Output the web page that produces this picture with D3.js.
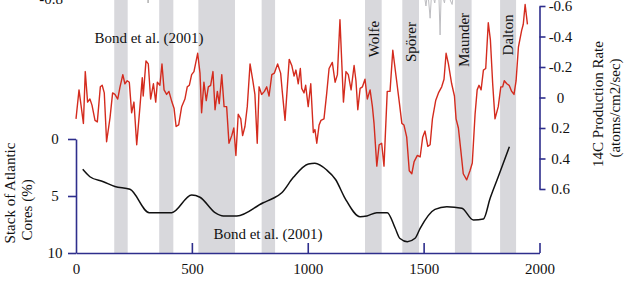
<!DOCTYPE html>
<html>
<head>
<meta charset="utf-8">
<script src="https://cdn.jsdelivr.net/npm/d3@7"></script>
<style>
  body { margin: 0; background: #fff; }
  svg text { font-family: "Liberation Serif", "Times New Roman", serif; font-size: 15px; fill: #111; }
</style>
</head>
<body>
<svg width="630" height="283"></svg>
<script>
// solar minima / Bond events (years AD)
var bandStart = [165, 359, 528, 801, 1247, 1408, 1635, 1830];
var bandEnd   = [223, 420, 686, 859, 1319, 1480, 1707, 1899];
var bandNames = ["", "", "", "", "Wolfe", "Spörer", "Maunder", "Dalton"];

// 14C production rate (right axis, inverted)
var c14Years = [0, 13, 32, 40, 50, 60, 69, 82, 92, 105, 113, 122, 132, 147, 158, 168, 180, 190, 202, 211,
  221, 230, 240, 250, 262, 276, 286, 290, 302, 312, 322, 334, 344, 351, 362, 371, 380, 391, 401, 414,
  423, 432, 443, 456, 470, 480, 489, 499, 509, 525, 535, 542, 552, 562, 571, 581, 591, 600, 610, 618,
  629, 639, 650, 660, 672, 681, 690, 700, 711, 719, 729, 739, 751, 763, 772, 782, 790, 801, 813, 823,
  833, 845, 856, 870, 883, 890, 902, 911, 920, 931, 941, 949, 959, 968, 974, 984, 991, 1002, 1013, 1024,
  1031, 1039, 1049, 1057, 1070, 1082, 1092, 1106, 1118, 1128, 1139, 1154, 1165, 1175, 1187, 1200, 1208, 1216, 1226, 1236,
  1247, 1257, 1269, 1279, 1286, 1298, 1308, 1319, 1329, 1343, 1355, 1367, 1381, 1395, 1406, 1415, 1427, 1438, 1449, 1459,
  1473, 1485, 1496, 1506, 1518, 1528, 1538, 1552, 1564, 1578, 1588, 1597, 1607, 1621, 1633, 1640, 1650, 1660, 1671, 1686,
  1700, 1710, 1722, 1731, 1739, 1748, 1758, 1768, 1779, 1788, 1798, 1808, 1822, 1833, 1841, 1848, 1859, 1869, 1880, 1890,
  1899, 1909, 1923, 1930, 1938, 1948];
var c14Rate = [0.14, -0.05, 0.17, -0.17, 0.03, 0.01, 0.05, 0.15, 0.16, -0.07, -0.08, -0.03, 0.29, 0.13, -0.03, -0.02, 0.01, -0.07, -0.15, -0.09,
  -0.11, -0.10, 0.10, 0.03, 0.31, 0.06, -0.13, -0.01, -0.24, -0.22, 0.01, -0.09, 0.03, -0.10, -0.08, -0.22, -0.05, -0.02, -0.04, 0.03,
  0.07, 0.19, 0.18, 0.06, 0.01, -0.07, -0.08, -0.15, -0.17, -0.29, -0.16, 0.10, -0.10, 0.02, -0.07, -0.08, -0.17, 0.08, -0.04, 0.04,
  -0.15, 0.06, 0.06, 0.30, 0.25, 0.20, 0.38, 0.11, 0.14, 0.25, 0.19, 0.06, -0.22, -0.11, -0.02, 0.30, -0.07, -0.02, -0.04, -0.07,
  -0.01, -0.15, -0.16, -0.22, -0.16, -0.04, 0.15, -0.05, -0.25, -0.21, -0.14, -0.18, -0.09, -0.19, -0.06, -0.03, -0.08, 0.06, -0.09, 0.23,
  0.21, 0.30, 0.18, 0.15, 0.14, -0.03, -0.19, -0.23, -0.10, -0.15, -0.51, 0.03, -0.17, -0.15, -0.05, -0.21, -0.11, 0.08, -0.06, -0.07,
  -0.12, 0.01, -0.05, 0.06, 0.17, 0.45, 0.31, 0.30, 0.45, -0.04, -0.04, -0.31, -0.14, 0.03, 0.17, 0.18, 0.26, 0.48, 0.50, 0.42,
  0.38, 0.39, 0.26, 0.22, 0.32, 0.31, 0.14, 0.02, -0.03, -0.07, -0.12, -0.29, -0.22, -0.09, -0.01, 0.14, 0.20, 0.34, 0.50, 0.54,
  0.48, 0.43, 0.11, -0.05, -0.08, -0.05, -0.18, -0.19, -0.49, -0.38, -0.09, 0.14, 0.06, -0.07, -0.07, -0.11, -0.09, -0.08, -0.04, -0.02,
  -0.11, -0.33, -0.44, -0.48, -0.61, -0.48];

// Bond et al. (2001) stack of Atlantic cores (left axis)
var bondYears = [29, 60, 118, 168, 233, 316, 413, 499, 535, 600, 636, 694, 808, 851, 888, 938, 1003, 1031, 1082, 1120,
  1161, 1226, 1255, 1298, 1343, 1377, 1398, 1430, 1463, 1485, 1549, 1600, 1665, 1715, 1758, 1787, 1822, 1870];
var bondPct = [2.66, 3.31, 3.75, 4.17, 4.41, 6.46, 6.46, 4.91, 5.11, 6.46, 6.75, 6.75, 5.59, 5.20, 4.71, 3.36, 2.19, 2.13, 2.72, 3.55,
  5.20, 6.82, 6.75, 6.46, 6.46, 7.81, 8.73, 9.01, 8.71, 7.83, 6.17, 5.94, 6.08, 7.11, 7.02, 5.20, 3.31, 0.68];

// bits of the panel above, cut off by the crop
var topYears = [1500, 1510, 1518, 1528, 1535, 1548, 1555, 1566, 1571, 1576, 1590, 1597, 1623, 1630];
var topRate  = [-0.70, -0.60, -0.70, -0.52, -0.70, -0.62, -0.70, -0.66, -0.41, -0.70, -0.62, -0.70, -0.61, -0.70];

var xTicks = [0, 500, 1000, 1500, 2000];
var leftTicks = [0, 5, 10];
var rightTicks = [-0.6, -0.4, -0.2, 0, 0.2, 0.4, 0.6];

var svg = d3.select("svg");
var axisColor = "#2e2e8c";

var x = d3.scaleLinear().domain([0, 2000]).range([76, 539.5]);
var yL = d3.scaleLinear().domain([0, 10]).range([139, 253]);
var yR = d3.scaleLinear().domain([-0.6, 0.6]).range([6, 189]);

// grey bands
svg.selectAll(".band")
  .data(bandStart).enter().append("rect")
  .attr("x", function(d) { return x(d); })
  .attr("y", 0)
  .attr("width", function(d, i) { return x(bandEnd[i]) - x(d); })
  .attr("height", 253)
  .attr("fill", "#d8d8dc");

// cut-off bits at the top
svg.append("path")
  .datum(topYears)
  .attr("fill", "none")
  .attr("stroke", "#bdbdc1")
  .attr("stroke-width", 1)
  .attr("d", d3.line().x(function(d) { return x(d); }).y(function(d, i) { return yR(topRate[i]); }));
svg.append("line")
  .attr("x1", x(311)).attr("x2", x(311)).attr("y1", 0).attr("y2", 3)
  .attr("stroke", "#888").attr("stroke-width", 1);
svg.append("text").attr("x", 63).attr("y", 4).attr("text-anchor", "end").text("-0.8");

// red 14C line
svg.append("path")
  .datum(c14Years)
  .attr("fill", "none")
  .attr("stroke", "#d42b1e")
  .attr("stroke-width", 1.4)
  .attr("stroke-linejoin", "round")
  .attr("d", d3.line().x(function(d) { return x(d); }).y(function(d, i) { return yR(c14Rate[i]); }));

// black Bond line
svg.append("path")
  .datum(bondYears)
  .attr("fill", "none")
  .attr("stroke", "#111")
  .attr("stroke-width", 1.5)
  .attr("stroke-linejoin", "round")
  .attr("d", d3.line().curve(d3.curveMonotoneX).x(function(d) { return x(d); }).y(function(d, i) { return yL(bondPct[i]); }));

// axes
var gx = svg.append("g").attr("transform", "translate(0,253)")
  .call(d3.axisBottom(x).tickValues(xTicks).tickFormat(d3.format("d"))
    .tickSizeInner(-10).tickSizeOuter(0).tickPadding(10));
var gl = svg.append("g").attr("transform", "translate(76,0)")
  .call(d3.axisLeft(yL).tickValues(leftTicks).tickSizeInner(8).tickSizeOuter(0));
var gr = svg.append("g").attr("transform", "translate(" + x(2000) + ",0)")
  .call(d3.axisRight(yR).tickValues(rightTicks).tickSizeInner(6).tickSizeOuter(0)
    .tickFormat(function(d) { return d === 0 ? "0" : d3.format(".1f")(d).replace("\u2212", "-"); }));

[gx, gl, gr].forEach(function(g) {
  g.selectAll("path, line").attr("stroke", axisColor).attr("stroke-width", 1.6);
  g.selectAll("text").attr("fill", "#111").style("font-size", "15px")
    .style("font-family", "'Liberation Serif', 'Times New Roman', serif");
});
gx.select(".tick line").remove();
gl.selectAll("text").attr("text-anchor", "middle").attr("x", -21);
gr.selectAll("text").attr("text-anchor", "middle").attr("x", 21);

// axis titles
svg.append("text").attr("transform", "translate(10,193) rotate(-90)").attr("text-anchor", "middle").attr("dy", "0.35em").text("Stack of Atlantic");
svg.append("text").attr("transform", "translate(27,210) rotate(-90)").attr("text-anchor", "middle").attr("dy", "0.35em").text("Cores (%)");
svg.append("text").attr("transform", "translate(598,104) rotate(-90)").attr("text-anchor", "middle").attr("dy", "0.35em").text("14C Production Rate");
svg.append("text").attr("transform", "translate(615,108) rotate(-90)").attr("text-anchor", "middle").attr("dy", "0.35em").text("(atoms/cm2/sec)");

// source labels
svg.append("text").attr("x", 149).attr("y", 38).attr("dy", "0.35em").attr("text-anchor", "middle").text("Bond et al. (2001)");
svg.append("text").attr("x", 268).attr("y", 234).attr("dy", "0.35em").attr("text-anchor", "middle").text("Bond et al. (2001)");

// minimum names
var labelMid = {"Wolfe": 39, "Spörer": 42, "Maunder": 40, "Dalton": 35};
svg.selectAll(".minlabel")
  .data(bandNames.map(function(n, i) { return {name: n, i: i}; }).filter(function(d) { return d.name; }))
  .enter().append("text")
  .attr("transform", function(d) {
    var cx = (x(bandStart[d.i]) + x(bandEnd[d.i])) / 2;
    return "translate(" + cx + "," + labelMid[d.name] + ") rotate(-90)";
  })
  .attr("text-anchor", "middle")
  .attr("dy", "0.35em")
  .text(function(d) { return d.name; });
</script>
</body>
</html>
